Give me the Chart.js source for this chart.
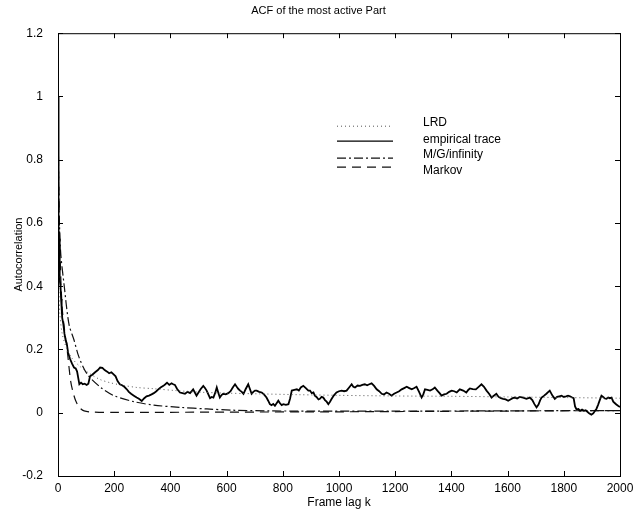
<!DOCTYPE html>
<html>
<head>
<meta charset="utf-8">
<script src="https://cdn.jsdelivr.net/npm/chart.js@4.4.0/dist/chart.umd.min.js"></script>
<style>
  html, body { margin: 0; padding: 0; background: #fff; }
  #wrap { width: 637px; height: 510px; }
</style>
</head>
<body>
<div id="wrap"><canvas id="acf"></canvas></div>
<script>
// lag values (frames) and autocorrelation
const EMP_K = [0,1,2,3,4,5,6,7,9,11,13,15,19,23,27,31,36,43,50,57,63,68,72,76,82,88,95,102,108,114,122,132,142,150,158,166,175,182,190,197,205,212,220,228,236,244,252,260,270,280,288,298,306,315,324,333,341,350,357,365,375,382,388,396,404,410,416,424,434,443,452,461,470,481,487,493,500,508,517,523,529,535,541,547,553,559,565,571,576,582,588,597,606,614,622,630,636,642,648,654,660,668,677,683,689,695,701,707,716,725,733,742,748,754,760,766,772,778,784,790,796,802,811,820,826,832,841,850,857,864,873,882,891,897,903,909,914,920,927,932,938,944,950,956,962,968,974,982,991,1000,1009,1018,1027,1036,1045,1051,1057,1066,1075,1083,1092,1100,1108,1116,1125,1134,1143,1152,1160,1169,1178,1187,1196,1205,1214,1223,1232,1241,1250,1259,1268,1276,1285,1294,1300,1306,1315,1324,1333,1341,1350,1358,1365,1374,1383,1392,1401,1410,1419,1430,1442,1453,1460,1466,1476,1487,1497,1507,1516,1525,1534,1543,1551,1560,1568,1576,1584,1593,1602,1610,1618,1626,1634,1643,1655,1667,1679,1688,1695,1703,1710,1716,1721,1730,1738,1745,1750,1759,1768,1776,1784,1792,1800,1808,1815,1822,1830,1835,1840,1845,1852,1858,1865,1872,1878,1883,1890,1898,1905,1911,1916,1922,1928,1934,1940,1946,1952,1958,1964,1970,1976,1982,1987,1993,2000];
const EMP_V = [1.0,0.78,0.66,0.58,0.52,0.55,0.47,0.42,0.40,0.36,0.33,0.30,0.28,0.25,0.23,0.22,0.19,0.17,0.155,0.143,0.14,0.13,0.11,0.09,0.095,0.09,0.092,0.088,0.092,0.115,0.12,0.128,0.135,0.143,0.142,0.135,0.13,0.125,0.128,0.122,0.115,0.1,0.09,0.087,0.082,0.075,0.066,0.06,0.054,0.048,0.044,0.037,0.045,0.052,0.054,0.058,0.062,0.068,0.074,0.08,0.085,0.09,0.095,0.088,0.093,0.09,0.088,0.075,0.064,0.062,0.06,0.066,0.062,0.074,0.064,0.054,0.064,0.075,0.085,0.078,0.07,0.058,0.046,0.05,0.048,0.062,0.08,0.062,0.048,0.056,0.06,0.058,0.062,0.068,0.08,0.09,0.082,0.075,0.07,0.066,0.06,0.075,0.09,0.075,0.06,0.066,0.07,0.07,0.066,0.064,0.058,0.048,0.038,0.027,0.024,0.028,0.022,0.03,0.038,0.03,0.024,0.027,0.025,0.027,0.045,0.07,0.072,0.074,0.07,0.08,0.085,0.078,0.07,0.07,0.062,0.064,0.054,0.05,0.042,0.044,0.05,0.048,0.04,0.035,0.027,0.035,0.044,0.055,0.064,0.068,0.07,0.068,0.07,0.08,0.09,0.082,0.08,0.086,0.085,0.088,0.09,0.087,0.09,0.093,0.085,0.074,0.068,0.06,0.058,0.064,0.06,0.054,0.06,0.064,0.068,0.074,0.078,0.082,0.078,0.074,0.078,0.082,0.066,0.048,0.058,0.074,0.072,0.07,0.074,0.08,0.07,0.062,0.054,0.058,0.06,0.066,0.07,0.068,0.064,0.074,0.07,0.064,0.072,0.077,0.075,0.074,0.082,0.09,0.082,0.07,0.06,0.048,0.054,0.06,0.05,0.046,0.044,0.042,0.038,0.042,0.046,0.048,0.045,0.05,0.048,0.044,0.048,0.04,0.028,0.017,0.026,0.04,0.048,0.054,0.06,0.066,0.07,0.055,0.044,0.05,0.052,0.054,0.05,0.052,0.054,0.052,0.048,0.046,0.02,0.011,0.012,0.006,0.01,0.006,0.008,0.004,-0.002,-0.006,-0.002,0.006,0.012,0.025,0.04,0.054,0.05,0.045,0.044,0.048,0.046,0.048,0.035,0.03,0.026,0.022,0.018];

const LRD_K = [0,1,3,7,15,30,50,80,114,150,185,223,280,340,420,505,600,700,861,1000,1200,1400,1600,1800,2000];
const LRD_V = [1.0,0.55,0.40,0.31,0.25,0.205,0.172,0.145,0.123,0.105,0.095,0.088,0.08,0.076,0.07,0.065,0.062,0.06,0.057,0.055,0.053,0.052,0.05,0.048,0.046];

const MG_K = [0,2,5,10,21,39,57,75,104,152,199,270,341,434,530,623,750,900,1200,1600,2000];
const MG_V = [1.0,0.75,0.6,0.5,0.41,0.28,0.23,0.175,0.122,0.08,0.054,0.035,0.024,0.017,0.012,0.008,0.006,0.005,0.005,0.006,0.007];

const MARKOV_K = [0,3,8,15,25,33,45,55,63,75,93,125,200,600,1000,1500,2000];
const MARKOV_V = [1.0,0.7,0.48,0.33,0.25,0.196,0.1,0.06,0.038,0.018,0.006,0.002,0.001,0.002,0.003,0.005,0.007];

const X_TICKS = [0,200,400,600,800,1000,1200,1400,1600,1800,2000];
const Y_TICKS = [-0.2,0,0.2,0.4,0.6,0.8,1,1.2];

const FONT = "'Liberation Sans', Arial, Helvetica, sans-serif";

const pts = (ks, vs) => ks.map((k, i) => ({ x: k, y: vs[i] }));

// box + inward tick marks on all four sides
const frameTicks = {
  id: 'frameTicks',
  afterDraw(chart) {
    const { ctx, chartArea: a, scales: { x, y } } = chart;
    ctx.save();
    ctx.strokeStyle = '#000';
    ctx.lineWidth = 1;
    ctx.strokeRect(a.left + 0.5, a.top + 0.5, a.right - a.left, a.bottom - a.top);
    ctx.beginPath();
    X_TICKS.forEach(v => {
      const px = Math.round(x.getPixelForValue(v)) + 0.5;
      ctx.moveTo(px, a.bottom); ctx.lineTo(px, a.bottom - 5);
      ctx.moveTo(px, a.top);    ctx.lineTo(px, a.top + 5);
    });
    Y_TICKS.forEach(v => {
      const py = Math.round(y.getPixelForValue(v)) + 0.5;
      ctx.moveTo(a.left, py);  ctx.lineTo(a.left + 5, py);
      ctx.moveTo(a.right, py); ctx.lineTo(a.right - 5, py);
    });
    ctx.stroke();
    ctx.restore();
  },
};

// legend drawn inside the plot like the original figure
const insideLegend = {
  id: 'insideLegend',
  afterDraw(chart) {
    const { ctx, chartArea: a } = chart;
    const x0 = a.left + 279, x1 = a.left + 335, tx = a.left + 365;
    const rows = chart.data.datasets.map((ds, i) => ({ ds, ty: a.top + [89, 106, 121, 137][i], ly: a.top + [93, 108, 125, 134][i] }));
    ctx.save();
    ctx.font = '12px ' + FONT;
    ctx.fillStyle = '#000';
    ctx.textBaseline = 'middle';
    rows.forEach(({ ds, ty, ly }) => {
      ctx.strokeStyle = ds.borderColor;
      ctx.lineWidth = Math.min(ds.borderWidth, 1.3);
      ctx.setLineDash(ds.borderDash || []);
      ctx.beginPath();
      ctx.moveTo(x0, ly); ctx.lineTo(x1, ly);
      ctx.stroke();
      ctx.fillText(ds.label, tx, ty);
    });
    ctx.restore();
  },
};

new Chart(document.getElementById('acf'), {
  type: 'line',
  data: {
    datasets: [
      { label: 'LRD', data: pts(LRD_K, LRD_V), borderColor: '#555', borderWidth: 1, borderDash: [1, 3], pointRadius: 0, tension: 0.3 },
      { label: 'empirical trace', data: pts(EMP_K, EMP_V), borderColor: '#000', borderWidth: 1.8, pointRadius: 0, tension: 0 },
      { label: 'M/G/infinity', data: pts(MG_K, MG_V), borderColor: '#111', borderWidth: 1.2, borderDash: [9, 3, 2, 3], pointRadius: 0, tension: 0.3 },
      { label: 'Markov', data: pts(MARKOV_K, MARKOV_V), borderColor: '#111', borderWidth: 1.2, borderDash: [9, 6], pointRadius: 0, tension: 0.3 },
    ],
  },
  options: {
    responsive: true,
    maintainAspectRatio: false,
    animation: false,
    layout: { padding: { left: 17, right: 17, top: 0, bottom: 0 } },
    plugins: {
      legend: { display: false },
      tooltip: { enabled: false },
      title: {
        display: true,
        text: 'ACF of the most active Part',
        color: '#000',
        font: { family: FONT, size: 11, weight: 'normal' },
        padding: { top: 4, bottom: 16 },
      },
    },
    scales: {
      x: {
        type: 'linear',
        min: 0, max: 2000,
        grid: { display: false },
        border: { display: false },
        afterBuildTicks: s => { s.ticks = X_TICKS.map(v => ({ value: v })); },
        afterFit: s => { s.height = 34; },
        ticks: { color: '#000', padding: -3, maxRotation: 0, font: { family: FONT, size: 12 }, callback: v => String(v) },
        title: { display: true, text: 'Frame lag k', color: '#000', font: { family: FONT, size: 12 }, padding: { top: 0, bottom: 0 } },
      },
      y: {
        min: -0.2, max: 1.2,
        grid: { display: false },
        border: { display: false },
        afterBuildTicks: s => { s.ticks = Y_TICKS.map(v => ({ value: v })); },
        afterFit: s => { s.width = 41; },
        ticks: { color: '#000', padding: 7, font: { family: FONT, size: 12 }, callback: v => String(+v.toFixed(1)) },
        title: { display: true, text: 'Autocorrelation', color: '#000', font: { family: FONT, size: 11 }, padding: { top: -5 } },
      },
    },
  },
  plugins: [frameTicks, insideLegend],
});
</script>
</body>
</html>
